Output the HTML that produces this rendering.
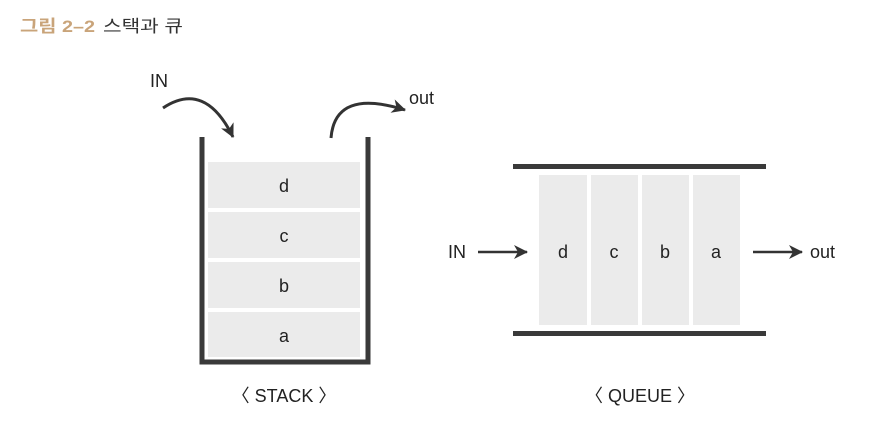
<!DOCTYPE html>
<html><head><style>body{margin:0;background:#fff}</style></head><body>
<svg width="886" height="430" xmlns="http://www.w3.org/2000/svg" font-family="Liberation Sans, Arial, sans-serif">
<defs><marker id="ah" markerWidth="16" markerHeight="16" refX="13" refY="7" orient="auto" markerUnits="userSpaceOnUse"><path d="M0,0 L14,7 L0,14 L4,7Z" fill="#333"/></marker></defs>
<text x="20" y="32" font-size="17" font-weight="bold" fill="#c9a47a" font-family="Liberation Sans, Noto Sans CJK KR, sans-serif" textLength="75" lengthAdjust="spacingAndGlyphs">그림 2–2</text>
<text x="103" y="32" font-size="17" fill="#333" font-family="Liberation Sans, Noto Sans CJK KR, sans-serif" textLength="80" lengthAdjust="spacingAndGlyphs">스택과 큐</text>
<text x="150" y="87" font-size="18" fill="#222">IN</text>
<path d="M163,108 Q205,80 233,137" stroke="#333" stroke-width="3" fill="none" marker-end="url(#ah)"/>
<path d="M331,138 Q335,88 405,110" stroke="#333" stroke-width="3" fill="none" marker-end="url(#ah)"/>
<text x="409" y="104" font-size="18" fill="#222">out</text>
<path d="M202,137 V362 H368 V137" stroke="#3a3a3a" stroke-width="5" fill="none"/>
<g fill="#ebebeb">
<rect x="208" y="162" width="152" height="46"/><rect x="208" y="212" width="152" height="46"/>
<rect x="208" y="262" width="152" height="46"/><rect x="208" y="312" width="152" height="45"/>
</g>
<g font-size="18" fill="#222" text-anchor="middle">
<text x="284" y="192">d</text><text x="284" y="242">c</text><text x="284" y="292">b</text><text x="284" y="342">a</text>
<text x="284" y="402">〈 STACK 〉</text>
<text x="640" y="402">〈 QUEUE 〉</text>
</g>
<rect x="513" y="164" width="253" height="5" fill="#3a3a3a"/>
<rect x="513" y="331" width="253" height="5" fill="#3a3a3a"/>
<g fill="#ebebeb">
<rect x="539" y="175" width="48" height="150"/><rect x="591" y="175" width="47" height="150"/>
<rect x="642" y="175" width="47" height="150"/><rect x="693" y="175" width="47" height="150"/>
</g>
<g font-size="18" fill="#222" text-anchor="middle">
<text x="563" y="258">d</text><text x="614" y="258">c</text><text x="665" y="258">b</text><text x="716" y="258">a</text>
</g>
<text x="448" y="258" font-size="18" fill="#222">IN</text>
<line x1="478" y1="252" x2="527" y2="252" stroke="#333" stroke-width="2.5" marker-end="url(#ah)"/>
<line x1="753" y1="252" x2="802" y2="252" stroke="#333" stroke-width="2.5" marker-end="url(#ah)"/>
<text x="810" y="258" font-size="18" fill="#222">out</text>
</svg>
</body></html>
